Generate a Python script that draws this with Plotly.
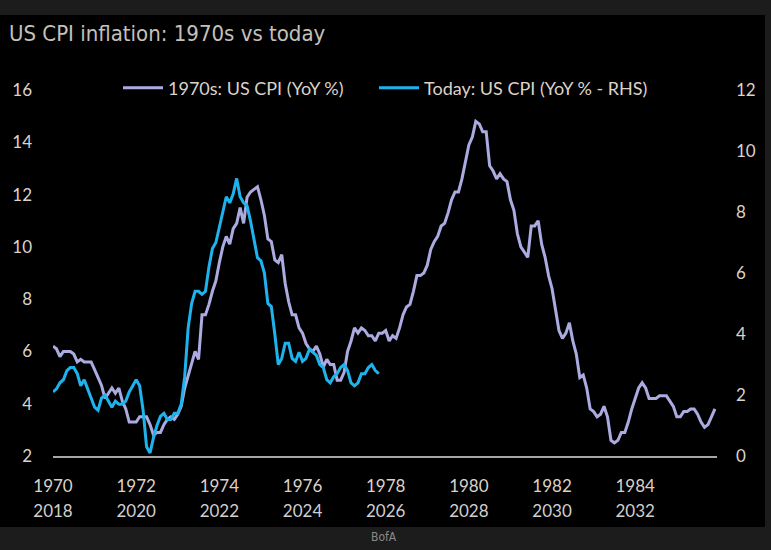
import plotly.graph_objects as go

# ---------------- data (monthly YoY %) ----------------
series_1970s_name = "1970s: US CPI (YoY %)"
series_today_name = "Today: US CPI (YoY % - RHS)"

# Jan 1970 .. Dec 1985 (left axis)
cpi_1970s = [
    6.2, 6.1, 5.8, 6.0, 6.0, 6.0, 5.9, 5.6, 5.7, 5.6, 5.6, 5.6,      # 1970
    5.3, 5.0, 4.7, 4.2, 4.4, 4.6, 4.4, 4.6, 4.1, 3.8, 3.3, 3.3,      # 1971
    3.3, 3.5, 3.5, 3.5, 3.2, 2.8, 2.9, 2.9, 3.2, 3.4, 3.5, 3.4,      # 1972
    3.6, 3.9, 4.6, 5.1, 5.5, 6.0, 5.7, 7.4, 7.4, 7.8, 8.3, 8.7,      # 1973
    9.4, 10.0, 10.4, 10.1, 10.7, 10.9, 11.5, 10.9, 11.9, 12.1, 12.2, 12.3,  # 1974
    11.8, 11.2, 10.3, 10.2, 9.5, 9.4, 9.7, 8.6, 7.9, 7.4, 7.4, 6.9,  # 1975
    6.7, 6.3, 6.1, 6.0, 6.2, 5.9, 5.4, 5.7, 5.5, 5.5, 4.9, 4.9,      # 1976
    5.2, 6.0, 6.4, 6.9, 6.7, 6.9, 6.8, 6.6, 6.6, 6.4, 6.7, 6.7,      # 1977
    6.8, 6.4, 6.6, 6.5, 6.9, 7.4, 7.7, 7.8, 8.3, 8.9, 8.9, 9.0,      # 1978
    9.3, 9.9, 10.2, 10.4, 10.8, 10.9, 11.3, 11.8, 12.1, 12.1, 12.6, 13.3,  # 1979
    13.9, 14.2, 14.8, 14.7, 14.4, 14.4, 13.1, 12.9, 12.6, 12.8, 12.6, 12.5,  # 1980
    11.8, 11.4, 10.5, 10.0, 9.8, 9.6, 10.8, 10.8, 11.0, 10.1, 9.6, 8.9,  # 1981
    8.4, 7.6, 6.8, 6.5, 6.7, 7.1, 6.4, 5.9, 5.0, 5.1, 4.6, 3.8,      # 1982
    3.7, 3.5, 3.6, 3.9, 3.5, 2.6, 2.5, 2.6, 2.9, 2.9, 3.3, 3.8,      # 1983
    4.2, 4.6, 4.8, 4.6, 4.2, 4.2, 4.2, 4.3, 4.3, 4.3, 4.1, 3.9,      # 1984
    3.5, 3.5, 3.7, 3.7, 3.8, 3.8, 3.6, 3.3, 3.1, 3.2, 3.5, 3.8,      # 1985
]

# Jan 2018 .. Nov 2025 (right axis)
cpi_today = [
    2.1, 2.2, 2.4, 2.5, 2.8, 2.9, 2.9, 2.7, 2.3, 2.5, 2.2, 1.9,      # 2018
    1.6, 1.5, 1.9, 2.0, 1.8, 1.6, 1.8, 1.7, 1.7, 1.8, 2.1, 2.3,      # 2019
    2.5, 2.3, 1.5, 0.3, 0.1, 0.6, 1.0, 1.3, 1.4, 1.2, 1.2, 1.4,      # 2020
    1.4, 1.7, 2.6, 4.2, 5.0, 5.4, 5.4, 5.3, 5.4, 6.2, 6.8, 7.0,      # 2021
    7.5, 7.9, 8.5, 8.3, 8.6, 9.1, 8.5, 8.3, 8.2, 7.7, 7.1, 6.5,      # 2022
    6.4, 6.0, 5.0, 4.9, 4.0, 3.0, 3.2, 3.7, 3.7, 3.2, 3.1, 3.4,      # 2023
    3.1, 3.2, 3.5, 3.4, 3.3, 3.0, 2.9, 2.5, 2.4, 2.6, 2.7, 2.9,      # 2024
    3.0, 2.8, 2.4, 2.3, 2.4, 2.7, 2.7, 2.9, 3.0, 2.8, 2.7,           # 2025
]

labels_1970s = ["1970", "1972", "1974", "1976", "1978", "1980", "1982", "1984"]
labels_today = ["2018", "2020", "2022", "2024", "2026", "2028", "2030", "2032"]
months_per_label = 24

left_ticks = [2, 4, 6, 8, 10, 12, 14, 16]
right_ticks = [0, 2, 4, 6, 8, 10, 12]

# ---------------- style ----------------
W, H = 771, 550
L, R, T, B = 53, 54, 90, 94
LAV = "#ababe2"
BLUE = "#1fb3ee"
TXT = "#dcd2c8"
TXT2 = "#cfcfcf"
FONT = "Lato, 'Open Sans', sans-serif"
NARROW = "'Liberation Sans Narrow', 'DejaVu Sans Condensed', 'Roboto', sans-serif"

pw, ph = W - L - R, H - T - B


def px_to_paper_x(px):
    return (px - L) / pw


def px_to_paper_y(py):
    return (H - B - py) / ph


month_idx_70s = list(range(len(cpi_1970s)))
month_idx_today = list(range(len(cpi_today)))
tickvals = [i * months_per_label for i in range(len(labels_1970s))]
xrange_ = [0, 191.6]

fig = go.Figure()
fig.add_trace(go.Scatter(
    x=month_idx_70s, y=cpi_1970s, name=series_1970s_name, mode="lines",
    line=dict(color=LAV, width=3), xaxis="x", yaxis="y", legend="legend",
))
fig.add_trace(go.Scatter(
    x=month_idx_today, y=cpi_today, name=series_today_name, mode="lines",
    line=dict(color=BLUE, width=3), xaxis="x2", yaxis="y2", legend="legend2",
))

legend_common = dict(
    orientation="h", yanchor="middle", xanchor="left",
    font=dict(family=FONT, size=18, color=TXT),
    bgcolor="rgba(0,0,0,0)", itemwidth=40,
)

fig.update_layout(
    width=W, height=H,
    margin=dict(l=L, r=R, t=T, b=B, pad=0),
    paper_bgcolor="#1c1c1c",
    plot_bgcolor="rgba(0,0,0,0)",
    showlegend=True,
    title=dict(
        text="US CPI inflation: 1970s vs today",
        x=9 / W, xref="container", xanchor="left",
        y=1 - 33 / H, yref="container", yanchor="middle",
        font=dict(family=NARROW, size=22, color="#c4c0bc"),
    ),
    legend=dict(legend_common, x=px_to_paper_x(118), y=px_to_paper_y(88)),
    legend2=dict(legend_common, x=px_to_paper_x(374), y=px_to_paper_y(88)),
    xaxis=dict(
        range=xrange_, tickvals=tickvals, ticktext=labels_1970s,
        showline=True, linecolor="#a6a6a6", linewidth=2,
        showgrid=False, zeroline=False, ticks="",
        tickfont=dict(family=FONT, size=17, color=TXT),
        ticklabelstandoff=14, fixedrange=True,
    ),
    xaxis2=dict(
        range=xrange_, tickvals=tickvals, ticktext=labels_today,
        overlaying="x", anchor="y", side="bottom",
        showline=False, showgrid=False, zeroline=False, ticks="",
        tickfont=dict(family=FONT, size=17, color=TXT2),
        ticklabelstandoff=43, fixedrange=True,
    ),
    yaxis=dict(
        range=[2, 16], tickvals=left_ticks,
        showline=False, showgrid=False, zeroline=False, ticks="",
        tickfont=dict(family=FONT, size=17, color=TXT),
        ticklabelstandoff=20, fixedrange=True,
    ),
    yaxis2=dict(
        range=[0, 12], tickvals=right_ticks,
        overlaying="y", side="right", anchor="x",
        showline=False, showgrid=False, zeroline=False, ticks="",
        tickfont=dict(family=FONT, size=17, color=TXT),
        ticklabelstandoff=18, fixedrange=True,
    ),
    shapes=[dict(
        type="rect", xref="paper", yref="paper", layer="below",
        x0=px_to_paper_x(0), x1=px_to_paper_x(765),
        y0=px_to_paper_y(527), y1=px_to_paper_y(15),
        fillcolor="#000000", line=dict(width=0),
    )],
    annotations=[dict(
        text="BofA", xref="paper", yref="paper",
        x=px_to_paper_x(384), y=px_to_paper_y(537),
        xanchor="center", yanchor="middle", showarrow=False,
        font=dict(family=NARROW, size=12, color="#8a8a8a"),
    )],
)

fig.write_html(
    "out.html",
    config={"displayModeBar": False},
    post_script="document.body.style.margin='0';document.body.style.overflow='hidden';",
)
